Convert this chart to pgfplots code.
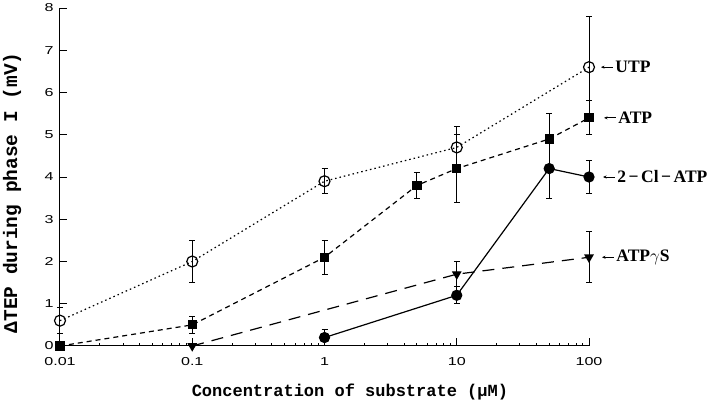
\documentclass[border=0pt]{standalone}
\usepackage{fontspec}
\setmainfont{Liberation Serif}
\setsansfont{Liberation Sans}
\newfontfamily\xlfont{Liberation Mono}
\newfontfamily\tickfont{Liberation Sans}[FakeStretch=1.4]
\usepackage{pgfplots}
\pgfplotsset{compat=1.18}
\usetikzlibrary{arrows.meta}
\newcommand\annot[3]{%
  \draw[line width=0.9pt, {Stealth[length=3.5pt,width=3pt]}-]
    ([xshift=#1pt]axis cs:100,#2) -- ([xshift=#1pt+12pt]axis cs:100,#2)
    node[right, inner sep=2pt, font=\bfseries\fontsize{17.5}{17.5}\selectfont]{#3};}
\begin{document}
\begin{tikzpicture}
\useasboundingbox (-60pt,-58pt) rectangle (660pt,346pt);
\begin{axis}[
  scale only axis, width=529pt, height=338pt,
  xmode=log, xmin=0.01, xmax=100, ymin=0, ymax=8,
  axis lines*=left, axis line style={line width=1pt},
  tick align=inside, major tick length=7.5pt,
  tick style={line width=1pt, black},
  xtick={0.01,0.1,1,10,100}, xticklabels={0.01,0.1,1,10,100},
  minor xtick={},
  ytick={0,1,2,3,4,5,6,7,8},
  /pgf/number format/assume math mode=true,
  tick label style={font=\tickfont\fontsize{11.5}{11.5}\selectfont},
  xticklabel style={yshift=-8pt},
  yticklabel style={xshift=-3pt},
  clip=false,
  xlabel={\xlfont\bfseries Concentration of substrate (μM)},
  xlabel style={at={(axis description cs:0.548,-0.136)}, anchor=center, font=\fontsize{17}{17}\selectfont},
  ylabel={\xlfont\bfseries ΔTEP during phase I (mV)},
  ylabel style={at={(axis description cs:-0.0907,0.453)}, anchor=center, rotate=0, font=\fontsize{19.5}{19.5}\selectfont},
  every axis plot/.append style={line width=1.2pt, black},
  error bars/error bar style={line width=1pt, solid},
  error bars/error mark options={rotate=90, mark size=3pt, line width=1pt, solid},
]
% ATPgammaS
\addplot[dash pattern=on 12pt off 8pt, mark=triangle*, mark size=4.5pt, mark options={solid, rotate=180, fill=black},
  error bars/.cd, y dir=both, y explicit]
  table[x=x, y=y, y error=e] {
x y e
0.1 0 0
10 1.7 0.3
100 2.1 0.6
};
% 2-Cl-ATP
\addplot[solid, mark=*, mark size=5pt, mark options={fill=black},
  error bars/.cd, y dir=both, y explicit]
  table[x=x, y=y, y error=e] {
x y e
1 0.2 0.2
10 1.2 0.2
50 4.2 0.7
100 4.0 0.4
};
% ATP
\addplot[dash pattern=on 5pt off 4pt, mark=square*, mark size=4pt, mark options={solid, fill=black},
  error bars/.cd, y dir=both, y explicit]
  table[x=x, y=y, y error=e] {
x y e
0.01 0 0
0.1 0.5 0.2
1 2.1 0.4
5 3.8 0.3
10 4.2 0.8
50 4.9 0.6
100 5.4 0.4
};
% UTP
\addplot[dash pattern=on 1.5pt off 3pt, mark=o, mark size=5.5pt, mark options={solid, fill=white},
  error bars/.cd, y dir=both, y explicit]
  table[x=x, y=y, y error=e] {
x y e
0.01 0.6 0.3
0.1 2.0 0.5
1 3.9 0.3
10 4.7 0.5
100 6.6 1.2
};
\annot{12}{6.6}{UTP}
\annot{15}{5.4}{ATP}
\annot{14}{4.0}{2\kern2.5pt−\kern2.5pt Cl\kern2.5pt−\kern2.5pt ATP}
\annot{13}{2.1}{ATP$\gamma$S}
\end{axis}
\end{tikzpicture}
\end{document}
